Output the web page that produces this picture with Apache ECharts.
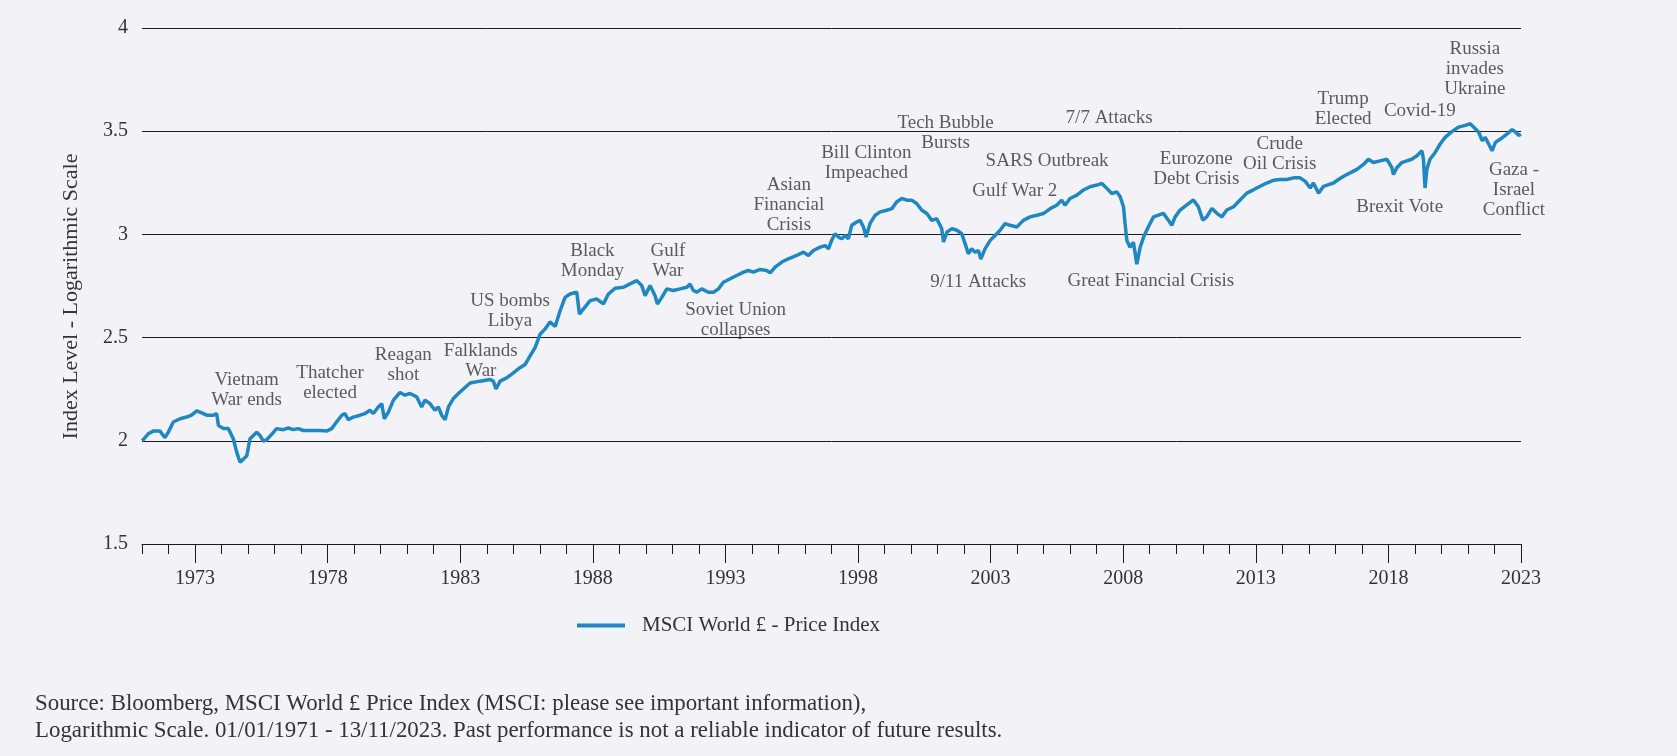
<!DOCTYPE html>
<html><head><meta charset="utf-8">
<script src="https://cdn.jsdelivr.net/npm/echarts@6/dist/echarts.min.js"></script>
<style>html,body{margin:0;padding:0;background:#f3f2f6}#c{width:1677px;height:756px}</style>
</head><body><div id="c"></div>
<script>
// Observation dates (decimal years, 01/01/1971 - 13/11/2023)
const years = [
1971.01,1971.24,1971.43,1971.69,1971.88,1972.01,1972.20,1972.46,1972.71,1972.90,
1973.10,1973.29,1973.48,1973.74,1973.86,1973.93,1974.12,1974.31,1974.50,1974.63,
1974.76,1974.89,1975.02,1975.14,1975.27,1975.40,1975.52,1975.65,1975.78,1975.97,
1976.16,1976.42,1976.61,1976.80,1976.99,1977.19,1977.51,1977.83,1978.08,1978.27,
1978.46,1978.66,1978.78,1978.91,1979.10,1979.36,1979.55,1979.74,1979.87,1980.06,
1980.19,1980.29,1980.45,1980.64,1980.89,1981.08,1981.28,1981.53,1981.72,1981.85,
1982.04,1982.23,1982.36,1982.49,1982.62,1982.75,1982.94,1983.13,1983.58,1983.96,
1984.34,1984.47,1984.57,1984.73,1984.98,1985.24,1985.49,1985.69,1985.88,1986.07,
1986.26,1986.45,1986.64,1986.84,1987.03,1987.22,1987.41,1987.67,1987.77,1987.92,
1988.18,1988.43,1988.69,1988.88,1989.14,1989.46,1989.71,1989.97,1990.16,1990.29,
1990.48,1990.67,1990.76,1990.93,1991.12,1991.37,1991.63,1991.89,1992.01,1992.14,
1992.27,1992.46,1992.71,1992.91,1993.10,1993.29,1993.55,1993.80,1994.06,1994.25,
1994.44,1994.70,1994.95,1995.08,1995.27,1995.53,1995.78,1996.10,1996.36,1996.55,
1996.74,1997.00,1997.19,1997.32,1997.44,1997.57,1997.70,1997.83,1997.96,1998.08,
1998.21,1998.40,1998.53,1998.66,1998.76,1998.91,1999.11,1999.30,1999.55,1999.75,
1999.94,2000.13,2000.33,2000.51,2000.70,2000.90,2001.09,2001.28,2001.47,2001.66,
2001.73,2001.86,2002.05,2002.24,2002.43,2002.56,2002.68,2002.81,2002.94,2003.07,
2003.16,2003.32,2003.52,2003.71,2003.90,2004.09,2004.28,2004.54,2004.79,2005.05,
2005.31,2005.56,2005.82,2006.07,2006.26,2006.39,2006.58,2006.84,2007.09,2007.35,
2007.61,2007.80,2007.99,2008.18,2008.37,2008.50,2008.63,2008.69,2008.76,2008.88,
2009.01,2009.14,2009.27,2009.40,2009.58,2009.78,2009.97,2010.16,2010.35,2010.48,
2010.61,2010.80,2011.06,2011.31,2011.50,2011.67,2011.82,2012.02,2012.21,2012.40,
2012.59,2012.85,2013.10,2013.36,2013.61,2013.87,2014.12,2014.38,2014.64,2014.89,
2015.15,2015.40,2015.60,2015.79,2015.91,2016.11,2016.30,2016.49,2016.68,2016.87,
2017.07,2017.32,2017.58,2017.83,2018.02,2018.21,2018.47,2018.73,2018.92,2018.98,
2019.11,2019.30,2019.49,2019.68,2019.87,2020.07,2020.13,2020.19,2020.26,2020.38,
2020.58,2020.77,2020.96,2021.22,2021.48,2021.73,2021.92,2022.05,2022.25,2022.38,
2022.50,2022.63,2022.76,2022.89,2023.08,2023.34,2023.53,2023.66,2023.79,2023.86
];
// Index level (log10 scale)
const levels = [
2.000,2.034,2.047,2.047,2.015,2.042,2.091,2.107,2.115,2.124,
2.145,2.135,2.124,2.124,2.132,2.075,2.059,2.059,2.010,1.945,
1.896,1.912,1.928,2.010,2.026,2.042,2.026,1.998,2.005,2.031,
2.059,2.054,2.062,2.054,2.059,2.050,2.050,2.050,2.047,2.059,
2.091,2.124,2.132,2.102,2.115,2.124,2.132,2.148,2.132,2.164,
2.180,2.107,2.140,2.197,2.234,2.221,2.229,2.213,2.164,2.197,
2.180,2.148,2.164,2.124,2.102,2.164,2.205,2.229,2.280,2.289,
2.297,2.289,2.251,2.289,2.305,2.329,2.354,2.370,2.411,2.451,
2.516,2.541,2.576,2.554,2.630,2.695,2.711,2.720,2.614,2.638,
2.679,2.687,2.663,2.711,2.739,2.744,2.760,2.776,2.752,2.703,
2.752,2.703,2.663,2.695,2.736,2.728,2.736,2.744,2.760,2.728,
2.720,2.736,2.720,2.720,2.736,2.768,2.785,2.801,2.817,2.825,
2.817,2.830,2.825,2.814,2.841,2.866,2.882,2.898,2.914,2.898,
2.922,2.938,2.946,2.930,2.971,3.003,2.987,2.979,2.995,2.979,
3.044,3.060,3.068,3.036,2.987,3.052,3.093,3.109,3.117,3.125,
3.158,3.174,3.166,3.166,3.150,3.117,3.101,3.068,3.076,3.028,
2.963,3.011,3.028,3.020,3.003,2.954,2.906,2.930,2.914,2.922,
2.881,2.930,2.971,2.995,3.020,3.052,3.044,3.036,3.068,3.085,
3.093,3.101,3.125,3.141,3.166,3.141,3.174,3.190,3.215,3.231,
3.239,3.247,3.223,3.198,3.206,3.184,3.134,3.052,2.970,2.938,
2.962,2.856,2.938,2.987,3.036,3.085,3.093,3.102,3.069,3.044,
3.085,3.118,3.143,3.167,3.134,3.069,3.085,3.126,3.102,3.085,
3.118,3.134,3.167,3.200,3.216,3.233,3.249,3.262,3.266,3.266,
3.274,3.274,3.257,3.225,3.249,3.200,3.233,3.241,3.249,3.266,
3.282,3.298,3.315,3.339,3.364,3.348,3.356,3.364,3.323,3.290,
3.323,3.348,3.356,3.364,3.380,3.405,3.364,3.225,3.315,3.364,
3.397,3.438,3.470,3.498,3.520,3.528,3.536,3.520,3.495,3.454,
3.470,3.438,3.405,3.446,3.462,3.487,3.508,3.495,3.479,3.487
];
const seriesName = 'MSCI World £ - Price Index';
const dataStart = 1971.0;
const dataEnd = 2023.87;
const axisFirstYear = 1971;
const axisLastYear = 2023;
const majorTickYears = [1973,1978,1983,1988,1993,1998,2003,2008,2013,2018,2023];
const yMin = 1.5, yMax = 4, yStep = 0.5;
const yAxisTitle = 'Index Level - Logarithmic Scale';

// Event annotations: text, date (decimal year) and level where the label sits
const eventNames = [
 'Vietnam\nWar ends','Thatcher\nelected','Reagan\nshot','Falklands\nWar','US bombs\nLibya',
 'Black\nMonday','Gulf\nWar','Soviet Union\ncollapses','Asian\nFinancial\nCrisis','Bill Clinton\nImpeached',
 'Tech Bubble\nBursts','9/11 Attacks','SARS Outbreak','Gulf War 2','7/7 Attacks',
 'Great Financial Crisis','Eurozone\nDebt Crisis','Crude\nOil Crisis','Trump\nElected','Covid-19',
 'Russia\ninvades\nUkraine','Brexit Vote','Gaza -\nIsrael\nConflict'
];
const eventYears = [
 1975.01,1978.21,1981.02,1983.99,1985.11,
 1988.27,1991.16,1993.76,1995.80,1998.77,
 2001.81,2003.06,2005.70,2004.46,2008.08,
 2009.68,2011.42,2014.62,2017.05,2019.99,
 2022.10,2019.22,2023.60
];
const eventLevels = [
 2.258,2.293,2.379,2.399,2.640,
 2.883,2.883,2.595,3.153,3.359,
 3.505,2.782,3.367,3.221,3.577,
 2.785,3.328,3.400,3.620,3.608,
 3.815,3.144,3.228
];
const footnoteLines = [
 'Source: Bloomberg, MSCI World £ Price Index (MSCI: please see important information),',
 'Logarithmic Scale. 01/01/1971 - 13/11/2023. Past performance is not a reliable indicator of future results.'
];

const FONT = "'Liberation Serif', serif";
const TEXT = '#333333';
const RULE = '#1c1c1c';
const LINE = '#1f88c0';

const chart = echarts.init(document.getElementById('c'), null, {renderer: 'canvas'});
chart.setOption({
  backgroundColor: '#f3f2f6',
  animation: false,
  textStyle: {fontFamily: FONT},
  title: {
    text: footnoteLines.join('\n'),
    left: 35, top: 691, padding: 0,
    textStyle: {fontFamily: FONT, fontSize: 22.9, fontWeight: 'normal', color: TEXT, lineHeight: 26.7}
  },
  legend: {
    data: [seriesName],
    left: 572, top: 610,
    icon: 'rect', itemWidth: 48, itemHeight: 4,
    textStyle: {fontFamily: FONT, fontSize: 21, color: TEXT, padding: [0, 0, 0, 12]}
  },
  grid: {left: 142, right: 156, top: 28, bottom: 212, containLabel: false},
  xAxis: [
    {type: 'value', min: dataStart, max: dataEnd, show: false},
    {type: 'value', min: axisFirstYear, max: axisLastYear, interval: 1, position: 'bottom',
     axisLine: {show: true, lineStyle: {color: RULE, width: 1}},
     axisTick: {show: true, length: 10, lineStyle: {color: RULE, width: 1}},
     axisLabel: {show: false}, splitLine: {show: false}},
    {type: 'value', min: axisFirstYear, max: axisLastYear, position: 'bottom',
     axisLine: {show: false},
     axisTick: {show: true, length: 19, customValues: majorTickYears, lineStyle: {color: RULE, width: 1}},
     axisLabel: {show: true, customValues: majorTickYears, formatter: v => String(v),
                 fontFamily: FONT, fontSize: 20, color: TEXT, margin: 25},
     splitLine: {show: false}}
  ],
  yAxis: {
    type: 'value', min: yMin, max: yMax, interval: yStep,
    name: yAxisTitle, nameLocation: 'middle', nameGap: 60,
    nameTextStyle: {fontFamily: FONT, fontSize: 22, color: TEXT, padding: [0, 21, 0, 0]},
    axisLine: {show: false}, axisTick: {show: false},
    axisLabel: {fontFamily: FONT, fontSize: 20, color: TEXT, margin: 14},
    splitLine: {show: true, lineStyle: {color: RULE, width: 1}}
  },
  series: [
    {
      name: seriesName, type: 'line', xAxisIndex: 0,
      data: years.map((y, i) => [y, levels[i]]),
      showSymbol: false, symbol: 'none',
      lineStyle: {color: LINE, width: 3.5}, itemStyle: {color: LINE},
      z: 3
    },
    {
      name: 'events', type: 'scatter', xAxisIndex: 0, silent: true,
      symbolSize: 1, itemStyle: {color: 'rgba(0,0,0,0)'},
      data: eventNames.map((n, i) => ({name: n, value: [eventYears[i], eventLevels[i]]})),
      label: {show: true, position: 'inside', formatter: p => p.name, offset: [0, 2.5],
              fontFamily: FONT, fontSize: 19, lineHeight: 20, color: TEXT, align: 'center', verticalAlign: 'middle'},
      z: 4
    }
  ]
});
</script></body></html>
